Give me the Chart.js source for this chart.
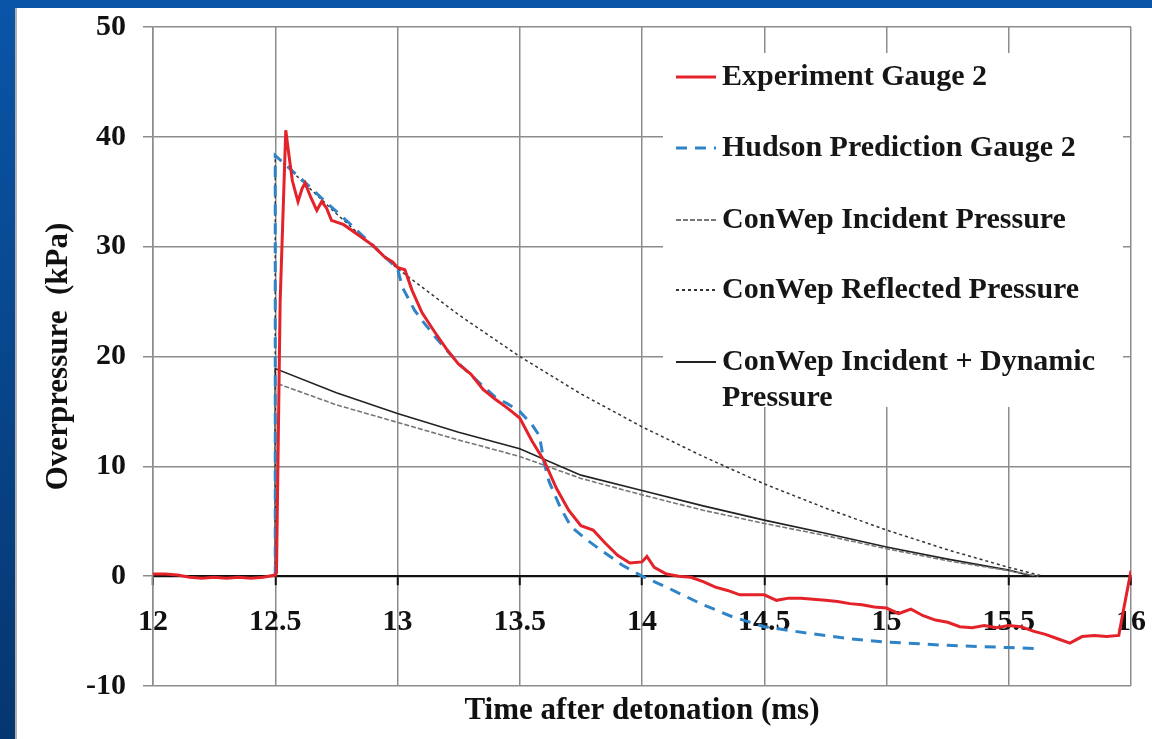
<!DOCTYPE html>
<html>
<head>
<meta charset="utf-8">
<script src="https://cdn.jsdelivr.net/npm/chart.js@4.4.0/dist/chart.umd.min.js"></script>
<style>
  html, body { margin: 0; padding: 0; background: #0a4f9e; overflow: hidden; }
  #wrap { position: absolute; left: 0; top: 0; width: 1152px; height: 739px; }
</style>
</head>
<body>
<div id="wrap"><canvas id="c" width="1152" height="739"></canvas></div>
<script>
// ---------- data ----------
const seriesNames = [
  'Experiment Gauge 2',
  'Hudson Prediction Gauge 2',
  'ConWep Incident Pressure',
  'ConWep Reflected Pressure',
  ['ConWep Incident + Dynamic', 'Pressure']
];
const xTickValues = [12, 12.5, 13, 13.5, 14, 14.5, 15, 15.5, 16];
const yTickValues = [-10, 0, 10, 20, 30, 40, 50];

const expT = [12.0,12.05,12.1,12.15,12.2,12.25,12.3,12.35,12.4,12.45,12.5,12.505,12.52,12.543,12.555,12.57,12.593,12.61,12.622,12.645,12.67,12.69,12.71,12.73,12.78,12.85,12.9,12.95,12.98,13.0,13.03,13.06,13.1,13.15,13.2,13.25,13.3,13.35,13.4,13.45,13.5,13.55,13.6,13.65,13.7,13.75,13.8,13.85,13.9,13.95,14.0,14.02,14.05,14.1,14.15,14.2,14.25,14.3,14.35,14.4,14.45,14.5,14.55,14.6,14.65,14.7,14.75,14.8,14.85,14.9,14.95,15.0,15.05,15.1,15.15,15.2,15.25,15.3,15.35,15.4,15.45,15.5,15.55,15.6,15.65,15.7,15.75,15.8,15.85,15.9,15.95,15.97,16.0];
const expP = [0.2,0.2,0.1,-0.1,-0.2,-0.1,-0.2,-0.1,-0.2,-0.1,0.1,0.3,25,40.6,38.5,36,34.1,35.3,35.8,34.5,33.3,34.1,33.5,32.4,32.0,30.9,30.1,29.0,28.6,28.1,27.9,26.0,24.0,22.3,20.7,19.3,18.4,17.0,16.1,15.3,14.4,12.3,10.5,8.0,6.0,4.6,4.2,3.0,1.9,1.2,1.3,1.8,0.8,0.2,0.0,-0.1,-0.5,-1.0,-1.3,-1.7,-1.7,-1.7,-2.2,-2.0,-2.0,-2.1,-2.2,-2.3,-2.5,-2.6,-2.8,-2.9,-3.4,-3.0,-3.6,-4.0,-4.2,-4.6,-4.7,-4.5,-4.7,-4.5,-4.6,-5.0,-5.3,-5.7,-6.1,-5.5,-5.4,-5.5,-5.4,-3.0,0.5];

const hudT = [12.5,12.5,12.6,12.7,12.8,12.9,13.0,13.02,13.07,13.1,13.15,13.2,13.25,13.3,13.35,13.4,13.45,13.5,13.55,13.58,13.6,13.62,13.665,13.71,13.775,13.83,13.92,14.0,14.1,14.24,14.37,14.5,14.68,14.85,15.0,15.25,15.5,15.62];
const hudP = [0,38.3,36.3,34.2,32.2,30.1,28.0,26.3,24.2,23.3,21.9,20.6,19.4,18.3,17.3,16.3,15.7,15.0,13.8,12.8,10.3,8.6,6.3,4.5,3.3,2.4,1.0,0.0,-1.0,-2.5,-3.7,-4.6,-5.2,-5.7,-6.0,-6.3,-6.5,-6.6];

const incT = [12.5,12.5,12.75,13.0,13.25,13.5,13.75,14.0,14.25,14.5,14.75,15.0,15.25,15.5,15.62];
const incP = [0,17.6,15.6,14.0,12.4,10.9,8.9,7.4,6.0,4.8,3.7,2.5,1.4,0.5,0];

const reflT = [12.5,12.5,12.75,13.0,13.25,13.5,13.75,14.0,14.25,14.5,14.75,15.0,15.25,15.5,15.64];
const reflP = [0,38.3,33.0,28.0,23.8,20.0,16.6,13.6,10.9,8.4,6.2,4.2,2.4,0.8,0];

const incDynT = [12.5,12.5,12.75,13.0,13.25,13.5,13.75,14.0,14.25,14.5,14.75,15.0,15.25,15.5,15.6];
const incDynP = [0,18.9,16.7,14.8,13.1,11.6,9.2,7.8,6.4,5.1,3.9,2.65,1.55,0.55,0];

// ---------- helpers ----------
const pts = (xs, ys) => xs.map((x, i) => ({ x: x, y: ys[i] }));
const SERIF = "'Liberation Serif', 'DejaVu Serif', serif";

const datasets = [
  { label: seriesNames[0], data: pts(expT, expP), borderColor: '#e4222a', borderWidth: 3, borderDash: [] },
  { label: seriesNames[1], data: pts(hudT, hudP), borderColor: '#2f84c8', borderWidth: 3, borderDash: [11, 8] },
  { label: seriesNames[2], data: pts(incT, incP), borderColor: '#777777', borderWidth: 1.6, borderDash: [5, 2] },
  { label: seriesNames[3], data: pts(reflT, reflP), borderColor: '#333333', borderWidth: 1.5, borderDash: [3, 3] },
  { label: seriesNames[4], data: pts(incDynT, incDynP), borderColor: '#222222', borderWidth: 1.6, borderDash: [] }
];
datasets.forEach(d => { d.pointRadius = 0; d.fill = false; d.tension = 0; d.xAxisID = 'x'; d.yAxisID = 'y'; });

// background: slide blue + white panel
const bgPlugin = {
  id: 'bg',
  beforeDraw(chart) {
    const ctx = chart.ctx, W = chart.width, H = chart.height;
    ctx.save();
    const g = ctx.createLinearGradient(0, 0, 0, H);
    g.addColorStop(0, '#0a55a8');
    g.addColorStop(1, '#06366f');
    ctx.fillStyle = g;
    ctx.fillRect(0, 0, W, H);
    ctx.fillStyle = '#ffffff';
    ctx.fillRect(15, 8, W - 15, H - 8);
    ctx.strokeStyle = '#9a9a9a';
    ctx.lineWidth = 1.5;
    ctx.beginPath(); ctx.moveTo(16, 8); ctx.lineTo(16, H); ctx.stroke();
    ctx.restore();
  }
};

// legend drawn inside the plot area with a white box over the grid
const boxLegend = {
  id: 'boxLegend',
  beforeDatasetsDraw(chart) {
    const ctx = chart.ctx, a = chart.chartArea;
    const bx = a.right - 468, by = a.top + 26, bw = 460, bh = 354;
    ctx.save();
    ctx.fillStyle = '#ffffff';
    ctx.fillRect(bx, by, bw, bh);
    const rowsY = [50, 121, 193, 263, 335];
    ctx.font = 'bold 30px ' + SERIF;
    ctx.textBaseline = 'middle';
    ctx.textAlign = 'left';
    chart.data.datasets.forEach((d, i) => {
      const y = a.top + rowsY[i];
      ctx.strokeStyle = d.borderColor;
      ctx.lineWidth = Math.max(2, d.borderWidth);
      ctx.setLineDash(d.borderDash || []);
      ctx.beginPath();
      ctx.moveTo(bx + 13, y);
      ctx.lineTo(bx + 53, y);
      ctx.stroke();
      ctx.setLineDash([]);
      ctx.fillStyle = '#161616';
      const lines = Array.isArray(d.label) ? d.label : [d.label];
      lines.forEach((t, k) => ctx.fillText(t, bx + 59, y + k * 36));
    });
    ctx.restore();
  }
};

new Chart(document.getElementById('c'), {
  type: 'line',
  data: { datasets: datasets },
  plugins: [bgPlugin, boxLegend],
  options: {
    responsive: false,
    animation: false,
    events: [],
    layout: { padding: { left: 15, top: 27, right: 21, bottom: 0 } },
    plugins: { legend: { display: false }, tooltip: { enabled: false }, title: { display: false } },
    scales: {
      x: {
        type: 'linear',
        position: { y: 0 },
        min: 12, max: 16,
        afterBuildTicks: s => { s.ticks = xTickValues.map(v => ({ value: v })); },
        afterFit: s => { s.paddingLeft = 0; s.paddingRight = 0; },
        ticks: { font: { family: SERIF, size: 30, weight: 'bold' }, color: '#111', padding: 20, maxRotation: 0, autoSkip: false, callback: v => String(v) },
        grid: { color: '#8c8c8c', lineWidth: 1.5, tickColor: '#111', tickLength: 8, tickWidth: 2 },
        border: { display: true, color: '#111', width: 2.2 }
      },
      xt: {
        type: 'linear',
        position: 'bottom',
        min: 12, max: 16,
        ticks: { display: false },
        grid: { display: false },
        border: { display: false },
        afterFit: s => { s.height = 53; s.paddingLeft = 0; s.paddingRight = 0; },
        title: { display: true, text: 'Time after detonation (ms)', font: { family: SERIF, size: 31, weight: 'bold' }, color: '#111', padding: { top: 0, bottom: 9 } }
      },
      y: {
        type: 'linear',
        position: 'left',
        min: -10, max: 50,
        afterBuildTicks: s => { s.ticks = yTickValues.map(v => ({ value: v })); },
        afterFit: s => { s.width = 138; s.paddingTop = 0; s.paddingBottom = 0; },
        ticks: { font: { family: SERIF, size: 30, weight: 'bold' }, color: '#111', padding: 17 },
        grid: { color: '#8c8c8c', lineWidth: 1.5, tickLength: 10 },
        border: { display: true, color: '#8c8c8c', width: 1.5 },
        title: { display: true, text: 'Overpressure  (kPa)', font: { family: SERIF, size: 31, weight: 'bold' }, color: '#111', padding: { top: 25, bottom: 0 } }
      }
    }
  }
});
</script>
</body>
</html>
